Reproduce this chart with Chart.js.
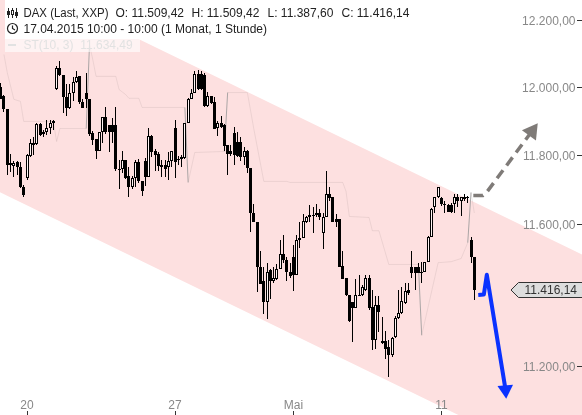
<!DOCTYPE html>
<html>
<head>
<meta charset="utf-8">
<title>DAX</title>
<script src="https://cdn.jsdelivr.net/npm/chart.js@4/dist/chart.umd.js"></script>
<style>
  html, body { margin: 0; padding: 0; background: #fff; }
  canvas { display: block; }
</style>
</head>
<body>
<canvas id="chart" width="582" height="415"></canvas>
<script>
// hourly candles, index 0 is the first hour of the 20th
const firstIndex = -8;
const opens = [12000,11974,11935,11777,11771,11780,11768,11708,11734,11800,11832,11835,11891,11862,11868,11882,11894,11997,12059,12038,11971,11938,11985,12015,12033,11956,11985,11965,11865,11847,11812,11868,11912,11888,11888,11888,11757,11762,11786,11742,11708,11736,11780,11725,11783,11739,11856,11812,11806,11774,11774,11768,11783,11882,11786,11791,11794,11894,11965,11985,12041,12041,12036,11944,11976,11956,11882,11894,11888,11832,11812,11865,11841,11841,11797,11812,11765,11635,11609,11481,11441,11380,11470,11441,11447,11473,11518,11501,11467,11507,11458,11558,11563,11609,11621,11624,11627,11635,11577,11621,11690,11679,11618,11618,11484,11450,11402,11380,11364,11400,11400,11416,11450,11367,11274,11372,11266,11272,11255,11233,11283,11336,11350,11378,11416,11481,11481,11481,11467,11467,11495,11566,11650,11679,11676,11659,11656,11656,11659,11679,11667,11673,11676,11558,11509.42];
const highs = [12012,11979,11935,11806,11783,11783,11780,11716,11806,11847,11853,11894,11894,11874,11903,11903,11903,12065,12080,12038,12009,12009,12030,12050,12033,11965,12044,11965,11871,11847,11868,11912,11941,11888,11909,11941,11788,11812,11786,11768,11742,11786,11791,11725,11794,11882,11859,11818,11809,11788,11788,11809,11812,11903,11800,11803,11894,11968,11997,12050,12053,12050,12044,11988,11976,11971,11900,11915,11891,11832,11832,11885,11868,11853,11826,11815,11765,11659,11609,11524,11481,11492,11473,11481,11487,11558,11572,11507,11492,11543,11572,11609,11630,11624,11656,11650,11659,11644,11635,11754,11708,11679,11630,11618,11526,11450,11402,11380,11447,11456,11430,11458,11456,11416,11397,11397,11339,11300,11274,11283,11341,11416,11422,11436,11436,11524,11481,11492,11495,11495,11569,11647,11679,11710,11679,11667,11661,11664,11690,11690,11679,11690,11682,11566,11509.42];
const lows = [11965,11929,11745,11751,11739,11745,11705,11679,11728,11797,11803,11832,11856,11853,11859,11862,11876,11994,12033,11926,11915,11935,11959,12012,11950,11938,11938,11856,11832,11791,11812,11838,11862,11809,11838,11754,11702,11748,11731,11679,11702,11708,11719,11684,11713,11739,11797,11754,11754,11739,11739,11728,11768,11734,11774,11768,11791,11894,11965,11985,11994,11994,11941,11941,11950,11879,11856,11882,11812,11745,11800,11774,11797,11783,11774,11748,11580,11609,11410,11433,11347,11333,11389,11436,11444,11473,11492,11441,11450,11413,11458,11535,11563,11604,11609,11577,11621,11615,11532,11621,11667,11607,11594,11481,11447,11397,11324,11269,11364,11397,11397,11413,11358,11246,11249,11297,11263,11221,11171,11227,11280,11333,11347,11375,11402,11450,11416,11464,11436,11467,11495,11566,11635,11676,11653,11635,11638,11635,11635,11650,11624,11667,11664,11490,11387.6];
const closes = [11965,11935,11774,11774,11777,11768,11708,11687,11803,11838,11838,11891,11859,11868,11882,11894,11900,12059,12036,11971,11938,11985,12015,12030,11956,11938,11965,11862,11844,11812,11868,11912,11868,11868,11868,11760,11762,11788,11736,11708,11736,11780,11725,11696,11739,11856,11809,11803,11771,11768,11762,11783,11812,11780,11791,11797,11894,11965,11985,12041,11997,11997,11944,11976,11953,11879,11894,11885,11829,11806,11806,11803,11800,11797,11812,11765,11635,11609,11481,11433,11380,11467,11439,11450,11473,11518,11501,11467,11453,11458,11558,11563,11612,11621,11627,11627,11635,11621,11621,11690,11676,11607,11607,11481,11447,11400,11327,11364,11402,11402,11422,11450,11364,11274,11372,11353,11272,11249,11233,11280,11336,11350,11383,11413,11405,11464,11464,11464,11464,11495,11566,11644,11679,11710,11659,11661,11638,11638,11679,11667,11679,11679,11679,11509.42,11416.14];

// axis labels, 11.400 is hidden behind the price tag in the original
const yTicks = [12200, 12000, 11800, 11600, 11200];
const yMin = 11068;
const yMax = 12262;
const xMin = -8.21;
const xMax = 168.74;
const xTicks = [0, 45, 81, 126];
const xLabels = ["20", "27", "Mai", "11"];

// down channel
const bandX = [-8.21, 168.74];
const bandUpper = [12348, 11515];
const bandLower = [11694, 10905];

// ST(10, 3)
const stX = [-7,-6,-4,-2,-1,8,9,10,18,19,20,21,27,28,30,31,34,35,48,49,51,60,61,67,69,72,79,80,96,97,98,104,105,107,110,119,120,125,129,132,134,135,136];
const stY = [12098,12044,11965,11959,11900,11900,11841,11879,11879,12127,12083,12033,12033,11994,11979,11968,11968,11941,11941,11722,11809,11812,11985,11985,11876,11725,11725,11722,11722,11696,11624,11621,11583,11583,11487,11487,11288,11492,11495,11504,11549,11693,11634];

// hand drawn scenario arrows
const greyArrowX = [135.7, 138.6, 139.8, 153.5];
const greyArrowY = [11684, 11684, 11694, 11871];
const blueArrowX = [137.2, 138.9, 139.8, 145.5];
const blueArrowY = [11401, 11402, 11458, 11137];

const lastClose = closes[closes.length - 1];
const candleX = (i) => i + firstIndex;
const isUp = (i) => closes[i] >= opens[i];
const fmt = (v) => v.toFixed(2).replace(".", ",").replace(/\B(?=(\d{3})+,)/g, ".");
const zip = (xs, ys) => xs.map((x, i) => ({ x: x, y: ys[i] }));
const FONT = "12px 'Liberation Sans', Arial, sans-serif";

// the labels sit inside the plot, so no margin may be reserved for them
const noMargins = (s) => {
  s.paddingLeft = 0;
  s.paddingRight = 0;
  s.paddingTop = 0;
  s.paddingBottom = 0;
};

// snap candles to whole pixels, otherwise 1px wicks come out blurry
const snapCandles = {
  id: "snapCandles",
  afterDatasetsUpdate(chart) {
    chart.getSortedVisibleDatasetMetas().forEach((meta) => {
      if (meta.type !== "bar") return;
      meta.data.forEach((el) => {
        el.x = Math.round(el.x - 0.5) + 0.5;
        el.y = Math.round(el.y);
        el.base = Math.round(el.base);
        if (el.y === el.base) el.base += 1;
      });
    });
  }
};

// header rows and last price tag
const overlay = {
  id: "overlay",
  afterDraw(chart) {
    const ctx = chart.ctx;
    ctx.save();

    // last price tag
    const y = Math.round(chart.scales.y.getPixelForValue(lastClose));
    ctx.beginPath();
    ctx.moveTo(582, y - 7.5);
    ctx.lineTo(518.5, y - 7.5);
    ctx.lineTo(511, y);
    ctx.lineTo(518.5, y + 7.5);
    ctx.lineTo(582, y + 7.5);
    ctx.fillStyle = "#dedede";
    ctx.fill();
    ctx.strokeStyle = "#333";
    ctx.lineWidth = 1;
    ctx.stroke();
    ctx.font = FONT;
    ctx.fillStyle = "#333";
    ctx.textAlign = "right";
    ctx.textBaseline = "middle";
    ctx.fillText(fmt(lastClose), 577, y + 0.5);

    // header backgrounds
    ctx.fillStyle = "#fff";
    ctx.fillRect(5, 0, 135, 39);
    ctx.fillStyle = "rgba(255,255,255,0.6)";
    ctx.fillRect(5, 39, 135, 13);

    ctx.textAlign = "left";
    ctx.textBaseline = "alphabetic";
    ctx.fillStyle = "#222";
    ctx.fillText("DAX (Last, XXP)", 23.5, 17, 85);
    ctx.fillText("O: 11.509,42", 115.5, 17);
    ctx.fillText("H: 11.509,42", 191.5, 17);
    ctx.fillText("L: 11.387,60", 267.5, 17);
    ctx.fillText("C: 11.416,14", 341.5, 17);
    ctx.fillText("17.04.2015 10:00 - 10:00 (1 Monat, 1 Stunde)", 23.5, 33);
    ctx.fillStyle = "#e2e2e2";
    ctx.fillText("ST(10, 3)  11.634,49", 23.5, 49);
    ctx.fillRect(8, 44, 8, 2);

    // candle icon
    ctx.strokeStyle = "#222";
    ctx.fillStyle = "#222";
    ctx.beginPath();
    [8.5, 12.5, 16.5].forEach((x) => { ctx.moveTo(x, 8); ctx.lineTo(x, 18); });
    ctx.stroke();
    ctx.fillRect(7, 11, 3, 4);
    ctx.fillRect(15, 12, 3, 4);
    ctx.fillStyle = "#fff";
    ctx.fillRect(11.5, 10.5, 2, 4);
    ctx.strokeRect(11.5, 10.5, 2, 4);

    // clock icon
    ctx.beginPath();
    ctx.arc(12.5, 28.5, 5, 0, Math.PI * 2);
    ctx.moveTo(12.5, 25.5);
    ctx.lineTo(12.5, 28.5);
    ctx.lineTo(15, 30);
    ctx.lineWidth = 1.2;
    ctx.stroke();
    ctx.restore();
  }
};

new Chart(document.getElementById("chart"), {
  type: "line",
  data: {
    datasets: [
      {
        data: zip(bandX, bandUpper),
        fill: "+1",
        backgroundColor: "#fde0e0",
        borderWidth: 0,
        pointRadius: 0,
        order: 6
      },
      {
        data: zip(bandX, bandLower),
        fill: false,
        borderWidth: 0,
        pointRadius: 0,
        order: 7
      },
      {
        data: zip(stX, stY),
        borderWidth: 1,
        pointRadius: 0,
        fill: false,
        borderColor: "rgba(170,150,150,0.2)",
        segment: {
          // the steep flips of the indicator show up darker
          borderColor: (c) => Math.abs(c.p1.y - c.p0.y) > 8 * Math.abs(c.p1.x - c.p0.x) ? "rgba(150,150,150,0.8)" : "rgba(170,150,150,0.2)"
        },
        order: 5
      },
      {
        type: "bar",
        data: opens.map((v, i) => ({ x: candleX(i), y: [lows[i], highs[i]] })),
        backgroundColor: "#000",
        borderWidth: 0,
        barThickness: 1,
        grouped: false,
        inflateAmount: 0,
        order: 4
      },
      {
        type: "bar",
        data: opens.map((v, i) => ({ x: candleX(i), y: [v, closes[i]] })),
        backgroundColor: (c) => isUp(c.dataIndex) ? "#fff4f4" : "#000",
        borderColor: "#000",
        borderWidth: 1,
        borderSkipped: false,
        barThickness: 3,
        grouped: false,
        inflateAmount: 0,
        order: 3
      },
      {
        data: zip(greyArrowX, greyArrowY),
        borderColor: "#7f7b78",
        backgroundColor: "#7f7b78",
        borderWidth: 3.5,
        borderDash: [10, 6],
        fill: false,
        pointStyle: "triangle",
        pointRadius: (c) => c.dataIndex === greyArrowX.length - 1 ? 10 : 0,
        pointRotation: 36,
        pointBorderWidth: 0,
        order: 2
      },
      {
        data: zip(blueArrowX, blueArrowY),
        borderColor: "#0a32ff",
        backgroundColor: "#0a32ff",
        borderWidth: 4,
        borderJoinStyle: "round",
        fill: false,
        pointStyle: "triangle",
        pointRadius: (c) => c.dataIndex === blueArrowX.length - 1 ? 9 : 0,
        pointRotation: 176,
        pointBorderWidth: 0,
        order: 1
      }
    ]
  },
  options: {
    responsive: false,
    animation: false,
    events: [],
    layout: { padding: 0, autoPadding: false },
    plugins: {
      legend: { display: false },
      tooltip: { enabled: false }
    },
    scales: {
      x: {
        type: "linear",
        min: xMin,
        max: xMax,
        offset: false,
        bounds: "data",
        afterFit: (s) => { s.height = 0; noMargins(s); },
        afterBuildTicks: (s) => { s.ticks = xTicks.map((v) => ({ value: v })); },
        ticks: {
          z: 1,
          mirror: true, // also switches off the label clip to the zero height axis box
          padding: 2,
          autoSkip: false,
          maxRotation: 0,
          minRotation: 0,
          color: "#888",
          font: { family: "'Liberation Sans', Arial, sans-serif", size: 12 },
          callback: (v) => xLabels[xTicks.indexOf(v)]
        },
        grid: { offset: false, drawOnChartArea: false, tickLength: -4, tickColor: "#333", tickWidth: 1, z: 1 },
        border: { display: false }
      },
      y: {
        type: "logarithmic",
        position: "right",
        min: yMin,
        max: yMax,
        bounds: "data",
        afterFit: (s) => { s.width = 0; noMargins(s); },
        afterBuildTicks: (s) => { s.ticks = yTicks.map((v) => ({ value: v })); },
        ticks: {
          z: 1,
          mirror: true,
          padding: -6.5,
          labelOffset: 1,
          autoSkip: false,
          color: "#888",
          font: { family: "'Liberation Sans', Arial, sans-serif", size: 12 },
          callback: (v) => fmt(v)
        },
        grid: { drawOnChartArea: false, tickLength: -5, tickColor: "#333", tickWidth: 1, z: 1 },
        border: { display: false }
      }
    }
  },
  plugins: [snapCandles, overlay]
});
</script>
</body>
</html>
